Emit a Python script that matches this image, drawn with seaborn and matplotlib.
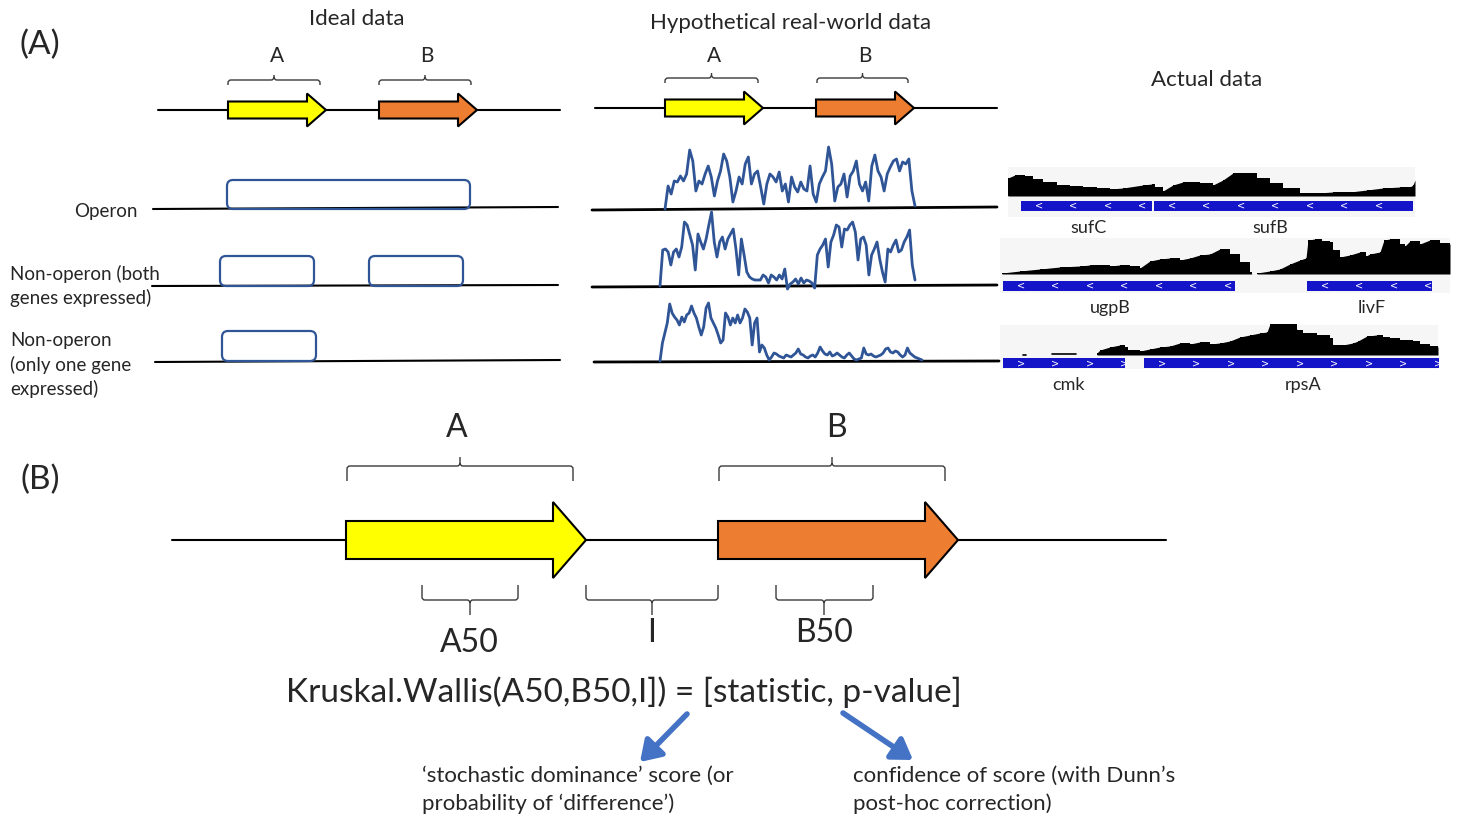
import numpy as np
import matplotlib
matplotlib.use("Agg")
import matplotlib.pyplot as plt
import seaborn as sns
from matplotlib.patches import Polygon, FancyBboxPatch, Rectangle, PathPatch
from matplotlib.path import Path

W, H = 1458, 816

# ---- data -------------------------------------------------------------
# hypothetical read-depth traces (height above the row line)
trace_operon = [0, 23, 15, 28, 27, 33, 28, 35, 59, 48, 18, 28, 25, 35, 43, 32, 13, 28, 38, 55,
                48, 32, 7, 18, 32, 25, 45, 52, 25, 35, 38, 22, 5, 25, 35, 32, 27, 37, 18, 25,
                7, 32, 22, 17, 27, 20, 18, 43, 15, 7, 25, 32, 38, 62, 45, 8, 22, 25, 35, 12,
                33, 38, 48, 25, 18, 27, 8, 43, 54, 38, 32, 18, 35, 42, 48, 50, 38, 47, 45, 50,
                18, 3]
trace_both = [0, 36, 37, 34, 21, 34, 37, 29, 39, 64, 61, 51, 41, 16, 52, 44, 37, 47, 61, 74,
              44, 29, 44, 49, 37, 47, 52, 57, 37, 11, 47, 31, 14, 9, 7, 6, 6, 6, 11, 9,
              3, 11, 9, 6, 11, 7, 17, -3, 2, 4, 7, 2, 8, 3, 6, 5, 3, -2, 31, 37,
              41, 47, 19, 44, 51, 61, 59, 39, 57, 56, 61, 64, 54, 26, 47, 49, 41, 11, 31, 37,
              44, 27, 14, 4, 37, 34, 41, 46, 34, 36, 44, 49, 56, 21, 6]
trace_one = [0, 18, 28, 38, 57, 48, 44, 41, 36, 44, 39, 46, 48, 55, 48, 43, 34, 26, 34, 53,
             58, 43, 38, 33, 26, 18, 21, 48, 44, 36, 43, 38, 46, 38, 43, 52, 49, 43, 16, 38,
             43, 9, 16, 13,
             6, 1, 4, 8, 7, 5, 4, 3, 6, 5, 4, 6, 8, 12, 7, 6, 4, 3, 5, 6,
             4, 8, 14, 10, 7, 6, 9, 5, 6, 8, 6, 4, 3, 6, 8, 5, 2, 1, 2, 3,
             13, 7, 6, 7, 5, 4, 5, 6, 8, 12, 13, 9, 8, 10, 9, 6, 4, 6, 13, 8,
             6, 4, 3, 2, 1]

# actual coverage tracks (position, depth)
suf_pos = [1008, 1015, 1025, 1033, 1043, 1057, 1070, 1083, 1097, 1110, 1123, 1143, 1152, 1155,
           1163, 1173, 1183, 1200, 1213, 1223, 1233, 1247, 1257, 1270, 1283, 1300, 1317, 1333,
           1350, 1367, 1383, 1400, 1410, 1413, 1415]
suf_depth = [18, 21, 20, 17, 14, 11, 10, 9, 8, 7, 8, 11, 12, 9, 5, 11, 14, 13, 11, 16,
             23, 23, 18, 13, 8, 3, 3, 4, 4, 6, 8, 9, 9, 11, 16]
ugp_pos = [1002, 1020, 1040, 1060, 1080, 1090, 1100, 1110, 1120, 1130, 1140, 1150, 1160, 1170,
           1180, 1190, 1200, 1210, 1220, 1230, 1240, 1250, 1252]
ugp_depth = [1, 3, 5, 7, 8, 9, 9, 8, 9, 8, 6, 13, 15, 16, 14, 16, 19, 20, 25, 20, 12, 2, 0]
liv_pos = [1257, 1270, 1280, 1290, 1300, 1306, 1308, 1315, 1322, 1330, 1333, 1340, 1350, 1360,
           1366, 1370, 1380, 1384, 1390, 1395, 1400, 1405, 1410, 1420, 1430, 1440, 1450]
liv_depth = [1, 3, 5, 10, 14, 16, 34, 35, 33, 32, 24, 17, 19, 22, 18, 20, 22, 34, 35, 35,
             30, 28, 33, 30, 34, 31, 30]
rps_pos = [1097, 1100, 1110, 1120, 1125, 1128, 1140, 1150, 1160, 1170, 1180, 1190, 1200, 1210,
           1220, 1230, 1240, 1250, 1260, 1267, 1270, 1295, 1297, 1303, 1310, 1317, 1323, 1330,
           1333, 1343, 1353, 1358, 1367, 1377, 1383, 1390, 1400, 1413, 1420, 1430, 1438]
rps_depth = [2, 5, 8, 10, 8, 5, 4, 6, 8, 9, 12, 11, 13, 11, 12, 14, 18, 20, 22, 23, 31, 31,
             25, 22, 22, 20, 20, 17, 10, 10, 12, 14, 19, 20, 18, 17, 15, 14, 11, 9, 8]

# gene bars on the actual-data tracks: (name, start, end, strand, label x)
track_genes = [[("sufC", 1021, 1152, "<", 1088), ("sufB", 1154, 1413, "<", 1270)],
               [("ugpB", 1003, 1235, "<", 1110), ("livF", 1307, 1432, "<", 1372)],
               [("cmk", 1003, 1125, ">", 1069), ("rpsA", 1144, 1439, ">", 1303)]]
row_names = ["Operon", "Non-operon (both\ngenes expressed)",
             "Non-operon\n(only one gene\nexpressed)"]

# ---- style ------------------------------------------------------------
sns.set_theme(style="white")
plt.rcParams["font.family"] = ["Lato", "DejaVu Sans"]

YEL, ORA, BLUE = "#FFFF00", "#ED7D31", "#2F5597"

fig = plt.figure(figsize=(W / 100, H / 100), dpi=100)
ax = fig.add_axes([0, 0, 1, 1])
ax.set_xlim(0, W)
ax.set_ylim(H, 0)
ax.axis("off")


def gene_arrow(x0, tip, yc, bh, hh, hl, color, lw=1.5):
    pts = [(x0, yc - bh), (tip - hl, yc - bh), (tip - hl, yc - hh), (tip, yc),
           (tip - hl, yc + hh), (tip - hl, yc + bh), (x0, yc + bh)]
    ax.add_patch(Polygon(pts, closed=True, fc=color, ec="black", lw=lw, zorder=3))


def brace(x0, x1, y, arm, tip, xc=None, r=3, lw=1.0):
    xc = (x0 + x1) / 2 if xc is None else xc
    s = np.sign(arm)
    verts = [(x0, y + arm), (x0, y + s * r), (x0, y), (x0 + r, y), (xc - r, y), (xc, y),
             (xc, y - s * r), (xc, y + tip),
             (xc, y - s * r), (xc, y), (xc + r, y), (x1 - r, y), (x1, y), (x1, y + s * r),
             (x1, y + arm)]
    codes = [Path.MOVETO, Path.LINETO, Path.CURVE3, Path.CURVE3, Path.LINETO, Path.CURVE3,
             Path.CURVE3, Path.LINETO,
             Path.MOVETO, Path.CURVE3, Path.CURVE3, Path.LINETO, Path.CURVE3, Path.CURVE3,
             Path.LINETO]
    ax.add_patch(PathPatch(Path(verts, codes), fc="none", ec="#3a3a3a", lw=lw, zorder=3))


def rbox(x0, x1, ytop, ybot):
    ax.add_patch(FancyBboxPatch((x0, ytop), x1 - x0, ybot - ytop,
                                boxstyle="round,pad=0,rounding_size=6",
                                fc="none", ec=BLUE, lw=1.6, zorder=3))


# ---- panel (A): ideal data --------------------------------------------
ax.text(40, 45, "(A)", fontsize=24, ha="center", va="center")
ax.text(357, 19, "Ideal data", fontsize=16, ha="center", va="center")
ax.plot([158, 560], [110, 110], color="black", lw=1.5)
gene_arrow(228, 326, 110, 8.5, 16.5, 19, YEL)
gene_arrow(379, 477, 110, 8.5, 16.5, 19, ORA)
brace(228, 320, 80, 5, -5)
brace(379, 471, 80, 5, -5)
ax.text(277, 56, "A", fontsize=15, ha="center", va="center")
ax.text(427, 56, "B", fontsize=15, ha="center", va="center")

ax.plot([153, 558], [209, 207], color="black", lw=1.5)
ax.plot([152, 558], [286, 285], color="black", lw=1.5)
ax.plot([155, 560], [362, 360], color="black", lw=1.5)
rbox(227, 470, 180, 209)
rbox(220, 314, 256, 286)
rbox(369, 463, 256, 286)
rbox(222, 316, 331, 361)

ax.text(138, 212, row_names[0], fontsize=13.5, ha="right", va="center")
ax.text(10, 286, row_names[1], fontsize=13.5, ha="left", va="center", linespacing=1.4)
ax.text(10, 365, row_names[2], fontsize=13.5, ha="left", va="center", linespacing=1.4)

# ---- hypothetical real-world data -------------------------------------
ax.text(791, 23, "Hypothetical real-world data", fontsize=16, ha="center", va="center")
ax.plot([595, 997], [108, 108], color="black", lw=1.5)
gene_arrow(665, 763, 108, 8.5, 16.5, 19, YEL)
gene_arrow(816, 914, 108, 8.5, 16.5, 19, ORA)
brace(665, 758, 78, 5, -5)
brace(817, 908, 78, 5, -5)
ax.text(714, 56, "A", fontsize=15, ha="center", va="center")
ax.text(865, 56, "B", fontsize=15, ha="center", va="center")

ax.plot([592, 997], [210, 207], color="black", lw=2)
ax.plot([592, 997], [287, 285], color="black", lw=2)
ax.plot([594, 999], [362, 361], color="black", lw=2)

for vals, x0, x1, base in [(trace_operon, 665, 915, 209),
                           (trace_both, 660, 915, 286),
                           (trace_one, 660, 922, 361)]:
    xs = np.linspace(x0, x1, len(vals))
    ys = base - np.asarray(vals, dtype=float)
    sns.lineplot(x=xs, y=ys, ax=ax, color=BLUE, lw=2, sort=False, estimator=None,
                 zorder=4)

# ---- actual data ------------------------------------------------------
ax.text(1207, 80, "Actual data", fontsize=16, ha="center", va="center")
panels = [(1008, 1415, 167, 217, 196, 206),
          (1000, 1450, 238, 293, 274, 286),
          (1000, 1438, 325, 369, 355, 363)]
for (px0, px1, py0, py1, _, _) in panels:
    ax.add_patch(Rectangle((px0, py0), px1 - px0, py1 - py0, fc="#f6f6f6", ec="none",
                           zorder=1))

covs = [[(suf_pos, suf_depth)], [(ugp_pos, ugp_depth), (liv_pos, liv_depth)],
        [(rps_pos, rps_depth)]]
for (_, _, _, _, base, bar_y), tracks, genes in zip(panels, covs, track_genes):
    for pos, dep in tracks:
        pos = np.asarray(pos, float)
        dep = np.asarray(dep, float)
        ax.fill_between(pos, base, base - dep, step="post", color="black", lw=0, zorder=2)
        ax.fill_between(pos, base, base - dep, color="black", lw=0, zorder=2)
    for name, g0, g1, strand, lx in genes:
        ax.add_patch(Rectangle((g0, bar_y - 5), g1 - g0, 10, fc="#1414c8", ec="none",
                               zorder=3))
        for cx in np.arange(g0 + 18, g1, 34.5):
            ax.text(cx, bar_y, strand, color="white", fontsize=7, ha="center",
                    va="center", family="DejaVu Sans", zorder=4)
        ax.text(lx, bar_y + 22, name, fontsize=13, ha="center", va="center")

# cmk: only faint traces of coverage
ax.plot([1023, 1026], [355, 355], color="black", lw=1.2)
ax.plot([1052, 1076], [354, 354], color="black", lw=1.2)

# ---- panel (B) --------------------------------------------------------
ax.text(40, 480, "(B)", fontsize=24, ha="center", va="center")
ax.plot([172, 1166], [540, 540], color="black", lw=1.5)
gene_arrow(346, 586, 540, 19, 38, 33, YEL)
gene_arrow(718, 958, 540, 19, 38, 33, ORA)
brace(347, 573, 466, 15, -9, xc=460)
brace(719, 945, 466, 15, -9, xc=832)
ax.text(457, 428, "A", fontsize=23, ha="center", va="center")
ax.text(836, 428, "B", fontsize=23, ha="center", va="center")

brace(422, 518, 600, -15, 15, xc=470)
brace(586, 718, 600, -15, 15, xc=652)
brace(776, 873, 600, -15, 15, xc=824)
ax.text(469, 643, "A50", fontsize=23, ha="center", va="center")
ax.text(652, 633, "I", fontsize=23, ha="center", va="center")
ax.text(824, 633, "B50", fontsize=23, ha="center", va="center")

ax.text(624, 692, "Kruskal.Wallis(A50,B50,I]) = [statistic, p-value]", fontsize=24,
        ha="center", va="center")

arrow_kw = dict(arrowstyle="-|>,head_length=1.0,head_width=0.65", color="#4472C4", lw=4,
                shrinkA=0, shrinkB=0)
ax.annotate("", xy=(640, 762), xytext=(687, 714), arrowprops=arrow_kw)
ax.annotate("", xy=(913, 760), xytext=(843, 713), arrowprops=arrow_kw)

ax.text(422, 790, "\u2018stochastic dominance\u2019 score (or\nprobability of \u2018difference\u2019)",
        fontsize=16, ha="left", va="center", linespacing=1.45)
ax.text(853, 790, "confidence of score (with Dunn\u2019s\npost-hoc correction)",
        fontsize=16, ha="left", va="center", linespacing=1.45)

fig.savefig("out.png", dpi=100, facecolor="white")
